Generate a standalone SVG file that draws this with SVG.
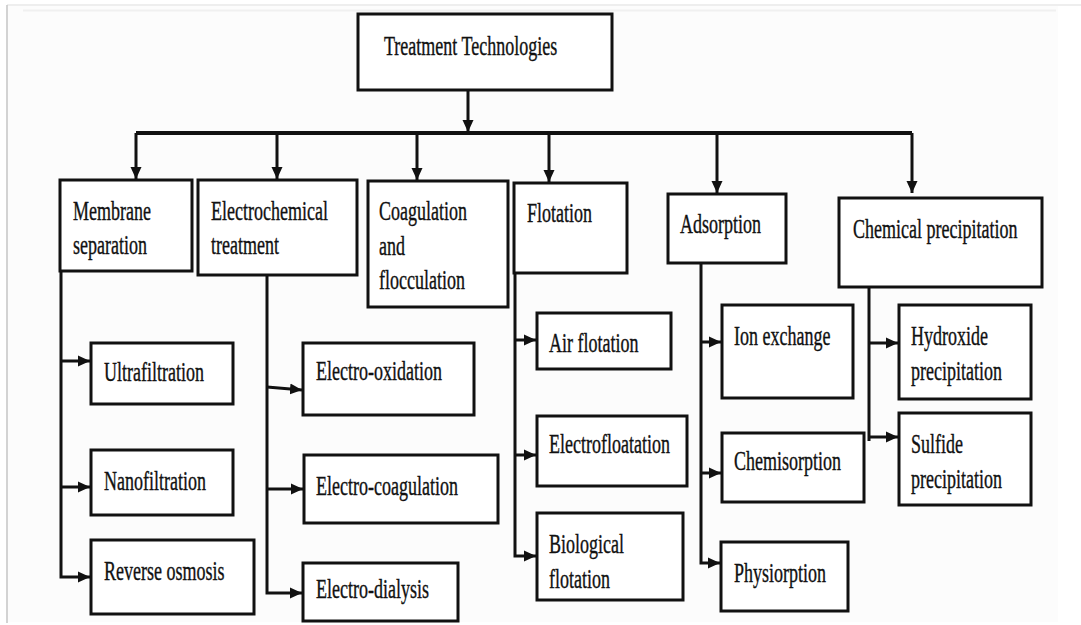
<svg xmlns="http://www.w3.org/2000/svg" width="1081" height="625" viewBox="0 0 1081 625">
<style>
.bg{fill:#fcfcfc}
.box{fill:#ffffff;stroke:#111;stroke-width:3}
.c{fill:none;stroke:#111;stroke-width:3}
.bar{fill:none;stroke:#111;stroke-width:4}
.t{font-family:"Liberation Serif","Times New Roman",serif;font-size:18px;fill:#111;stroke:#111;stroke-width:0.25}
</style>
<defs>
<marker id="ah" markerUnits="userSpaceOnUse" markerWidth="13" markerHeight="12" refX="12" refY="6" orient="auto">
<path d="M0,0.5 L12,6 L0,11.5 z" fill="#111"/>
</marker>
</defs>
<rect x="0" y="0" width="1081" height="625" fill="#ffffff"/>
<rect class="bg" x="8" y="6" width="1050" height="616"/>
<line x1="7" y1="5" x2="1081" y2="5" stroke="#e8e8e8" stroke-width="1.5"/>
<line x1="7" y1="5" x2="7" y2="623" stroke="#c4c4c4" stroke-width="1.5"/>
<line x1="23" y1="10.5" x2="1056" y2="10.5" stroke="#f0f0f0" stroke-width="2"/>

<g id="connectors">
<path class="c" d="M468,90 V132" marker-end="url(#ah)"/>
<path class="bar" d="M136,133 H912"/>
<path class="c" d="M136,133 V179" marker-end="url(#ah)"/>
<path class="c" d="M277,133 V179" marker-end="url(#ah)"/>
<path class="c" d="M417,133 V180" marker-end="url(#ah)"/>
<path class="c" d="M549,133 V182" marker-end="url(#ah)"/>
<path class="c" d="M717,133 V193" marker-end="url(#ah)"/>
<path class="c" d="M912,133 V193" marker-end="url(#ah)"/>

<path class="c" d="M61,271 V577 H90" marker-end="url(#ah)"/>
<path class="c" d="M61,361 H90" marker-end="url(#ah)"/>
<path class="c" d="M61,487 H90" marker-end="url(#ah)"/>

<path class="c" d="M267,275 V593 H302" marker-end="url(#ah)"/>
<path class="c" d="M267,387 L302,390" marker-end="url(#ah)"/>
<path class="c" d="M267,489 H303" marker-end="url(#ah)"/>

<path class="c" d="M515,273 V556 H536" marker-end="url(#ah)"/>
<path class="c" d="M515,340 H536" marker-end="url(#ah)"/>
<path class="c" d="M515,455 H536" marker-end="url(#ah)"/>

<path class="c" d="M701,263 V563 H720" marker-end="url(#ah)"/>
<path class="c" d="M701,342 H721" marker-end="url(#ah)"/>
<path class="c" d="M701,473 H721" marker-end="url(#ah)"/>

<path class="c" d="M869,287 V441"/>
<path class="c" d="M869,437 H898" marker-end="url(#ah)"/>
<path class="c" d="M869,343 H898" marker-end="url(#ah)"/>
</g>

<g id="root"><rect class="box" x="358" y="14" width="254" height="76"/><text class="t" transform="matrix(1 0 0 1.55 384 55)">Treatment Technologies</text></g>

<g id="membrane"><rect class="box" x="60" y="180" width="132" height="91"/><text class="t" transform="matrix(1 0 0 1.55 73 220)">Membrane</text><text class="t" transform="matrix(1 0 0 1.55 73 254)">separation</text></g>
<g id="electrochemical"><rect class="box" x="198" y="180" width="159" height="95"/><text class="t" transform="matrix(1 0 0 1.55 211 220)">Electrochemical</text><text class="t" transform="matrix(1 0 0 1.55 211 254)">treatment</text></g>
<g id="coagulation"><rect class="box" x="368" y="181" width="140" height="126"/><text class="t" transform="matrix(1 0 0 1.55 379 220)">Coagulation</text><text class="t" transform="matrix(1 0 0 1.55 379 255)">and</text><text class="t" transform="matrix(1 0 0 1.55 379 289)">flocculation</text></g>
<g id="flotation"><rect class="box" x="514" y="183" width="113" height="90"/><text class="t" transform="matrix(1 0 0 1.55 527 222)">Flotation</text></g>
<g id="adsorption"><rect class="box" x="668" y="194" width="118" height="69"/><text class="t" transform="matrix(1 0 0 1.55 680 233)">Adsorption</text></g>
<g id="chemical"><rect class="box" x="839" y="198" width="203" height="89"/><text class="t" transform="matrix(1 0 0 1.55 853 238)">Chemical precipitation</text></g>

<g id="ultrafiltration"><rect class="box" x="91" y="343" width="142" height="61"/><text class="t" transform="matrix(1 0 0 1.55 104 381)">Ultrafiltration</text></g>
<g id="nanofiltration"><rect class="box" x="91" y="450" width="142" height="65"/><text class="t" transform="matrix(1 0 0 1.55 104 490)">Nanofiltration</text></g>
<g id="reverse-osmosis"><rect class="box" x="91" y="540" width="163" height="74"/><text class="t" transform="matrix(1 0 0 1.55 104 580)">Reverse osmosis</text></g>

<g id="electro-oxidation"><rect class="box" x="303" y="343" width="171" height="72"/><text class="t" transform="matrix(1 0 0 1.55 316 380)">Electro-oxidation</text></g>
<g id="electro-coagulation"><rect class="box" x="304" y="455" width="194" height="68"/><text class="t" transform="matrix(1 0 0 1.55 316 495)">Electro-coagulation</text></g>
<g id="electro-dialysis"><rect class="box" x="303" y="563" width="155" height="58"/><text class="t" transform="matrix(1 0 0 1.55 316 598)">Electro-dialysis</text></g>

<g id="air-flotation"><rect class="box" x="537" y="313" width="134" height="56"/><text class="t" transform="matrix(1 0 0 1.55 549 352)">Air flotation</text></g>
<g id="electrofloatation"><rect class="box" x="537" y="416" width="150" height="70"/><text class="t" transform="matrix(1 0 0 1.55 549 453)">Electrofloatation</text></g>
<g id="biological-flotation"><rect class="box" x="537" y="513" width="146" height="87"/><text class="t" transform="matrix(1 0 0 1.55 549 553)">Biological</text><text class="t" transform="matrix(1 0 0 1.55 549 588)">flotation</text></g>

<g id="ion-exchange"><rect class="box" x="722" y="305" width="131" height="93"/><text class="t" transform="matrix(1 0 0 1.55 734 345)">Ion exchange</text></g>
<g id="chemisorption"><rect class="box" x="722" y="433" width="142" height="69"/><text class="t" transform="matrix(1 0 0 1.55 734 470)">Chemisorption</text></g>
<g id="physiorption"><rect class="box" x="721" y="542" width="127" height="69"/><text class="t" transform="matrix(1 0 0 1.55 734 582)">Physiorption</text></g>

<g id="hydroxide"><rect class="box" x="899" y="305" width="132" height="94"/><text class="t" transform="matrix(1 0 0 1.55 911 345)">Hydroxide</text><text class="t" transform="matrix(1 0 0 1.55 911 380)">precipitation</text></g>
<g id="sulfide"><rect class="box" x="899" y="413" width="132" height="92"/><text class="t" transform="matrix(1 0 0 1.55 911 453)">Sulfide</text><text class="t" transform="matrix(1 0 0 1.55 911 488)">precipitation</text></g>
</svg>
